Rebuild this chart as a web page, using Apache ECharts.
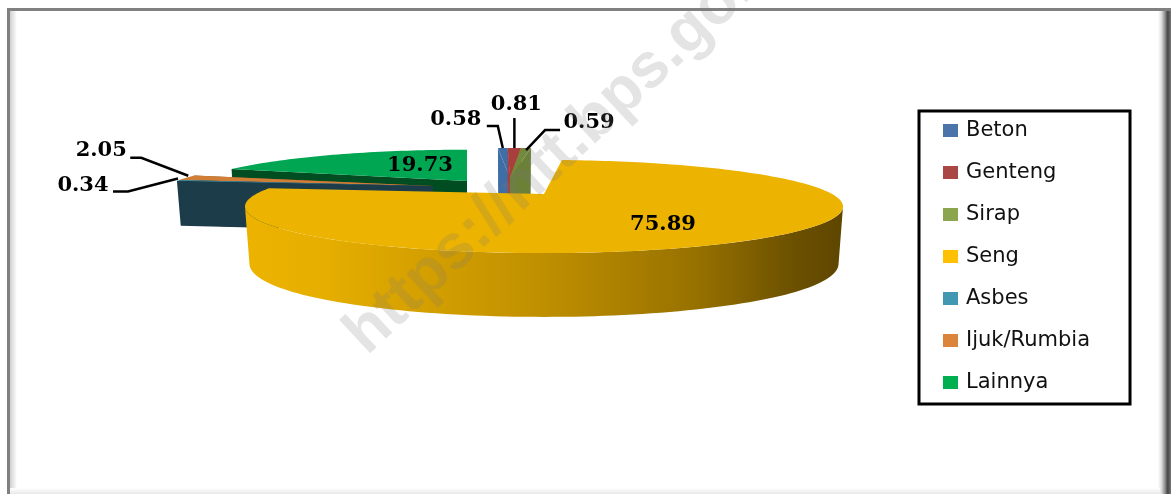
<!DOCTYPE html>
<html><head><meta charset="utf-8">
<style>html,body{margin:0;padding:0;background:#fff}#c{width:1171px;height:494px}</style>
<script src="https://cdn.jsdelivr.net/npm/echarts@6/dist/echarts.min.js"></script>
</head><body><div id="c"></div>
<script>
const categories = ['Beton','Genteng','Sirap','Seng','Asbes','Ijuk/Rumbia','Lainnya'];
const values = [0.58,0.81,0.59,75.89,0.34,2.05,19.73];
const valueLabels = ['0.58','0.81','0.59','75.89','0.34','2.05','19.73'];
const legendColors = ['#4a74aa','#aa4644','#8ba64f','#ffc000','#4298b0','#db843c','#00b050'];
const topColors = ['#3f6ea7','#a83f3c','#73893c','#ecb300','#4198af','#d17e37','#00a651'];
const wallColors = ['#3f6ea7','#a83f3c','#6c8038','#ecb300','#1c3c4a','#8a4f1e','#004d22'];
// paint order (back to front) and where each exploded slice sits
const paintOrder = [6,5,4,0,1,2,3];
const K = 0.269, RX = 288, RY = 43.2, DEPTH = 55, START_DEG = -2.6;
const layout = [
  {vx:510,vy:178,sx:1.17,sy:.88,depth:55, text:[-47,-29], line:[[0,0],[-5,-22],[-16,-22]]},
  {vx:510,vy:178,sx:1.17,sy:.88,depth:55, text:[2,-43], line:[[0,0],[0,-30]]},
  {vx:510,vy:178,sx:1.17,sy:.88,depth:55, text:[63,-26], line:[[0,2],[19,-18],[34,-18]]},
  {vx:544,vy:194,sx:1,sy:1,depth:55, text:[119,31], fromVertex:true},
  {vx:433,vy:186,sx:.93,sy:.92,depth:46, text:[-95,5], line:[[0,-2],[-50,11],[-65,11]]},
  {vx:433,vy:186,sx:.93,sy:.92,depth:46, text:[-85,-27], line:[[2,-2],[-45,-20],[-56,-20]]},
  {vx:467,vy:181,sx:.94,sy:.92,depth:55,rot:2.6, text:[-47,-15], fromVertex:true}
];
const total = values.reduce((a,b)=>a+b,0);
const DEG = Math.PI/180;
function proj(L, th, bottom){
  const u = Math.sin(th), v = Math.cos(th), w = 1 + K*v;
  let x = RX*L.sx*u/w, y = -RY*L.sy*v/w;
  if(bottom){ x *= .985; y += L.depth*(1-.16*v); }
  return [L.vx+x, L.vy+y];
}
function vertex(L,bottom){ return [L.vx, L.vy + (bottom?L.depth:0)]; }
function arc(L,a,b,bottom){
  const n = Math.max(2,Math.ceil(Math.abs(b-a)/(1.5*DEG))), p=[];
  for(let i=0;i<=n;i++) p.push(proj(L,a+(b-a)*i/n,bottom));
  return p;
}
const sengWall = {type:'linear',x:0,y:0,x2:1,y2:0,colorStops:[
  {offset:0,color:'#ecb300'},{offset:.13,color:'#e6ae00'},{offset:.5,color:'#bf8f00'},
  {offset:.75,color:'#987200'},{offset:.92,color:'#6b5000'},{offset:1,color:'#5e4600'}]};
const FRONT_FROM = 105.6*DEG, FRONT_TO = 254.4*DEG;
function renderSlice(idx){
  return function(params, api){
    const val = api.value(0);
    let before = 0; for(let i=0;i<idx;i++) before += values[i];
    const L = layout[idx];
    const a = (START_DEG + (L.rot||0) + before/total*360)*DEG, b = a + val/total*360*DEG;
    const kids = [];
    const poly = (pts,fill)=>({type:'polygon',shape:{points:pts},style:{fill:fill,stroke:null},silent:true});
    if(idx!==3){
      const v0=vertex(L,false), v1=vertex(L,true);
      [a,b].forEach(t=>kids.push(poly([v0,proj(L,t,false),proj(L,t,true),v1],wallColors[idx])));
    } else {
      const f=Math.max(a,FRONT_FROM), t=Math.min(b,FRONT_TO);
      kids.push(poly(arc(L,f,t,false).concat(arc(L,f,t,true).reverse()),sengWall));
    }
    kids.push(poly([vertex(L,false)].concat(arc(L,a,b,false)),topColors[idx]));
    const anchor = L.fromVertex ? vertex(L,false) : proj(L,(a+b)/2,false);
    if(L.line){
      kids.push({type:'polyline',shape:{points:L.line.map(p=>[anchor[0]+p[0],anchor[1]+p[1]])},
        style:{stroke:'#000',lineWidth:2.5,fill:null},silent:true});
    }
    kids.push({type:'text',silent:true,x:anchor[0]+L.text[0],y:anchor[1]+L.text[1],
      style:{text:valueLabels[idx],fill:'#000',font:'bold 21px "DejaVu Serif"',align:'center',verticalAlign:'middle'}});
    return {type:'group',children:kids};
  };
}
const series = categories.map((name,i)=>({
  type:'custom',name:name,coordinateSystem:'none',silent:true,animation:false,
  z:2+paintOrder.indexOf(i),
  itemStyle:{color:legendColors[i]},
  data:[[values[i]]],
  renderItem:renderSlice(i)
}));
const edge=(x,y,w,h,stops,vert)=>({type:'rect',silent:true,z:-1,shape:{x:x,y:y,width:w,height:h},
  style:{fill:stops.length===1?stops[0]:{type:'linear',x:0,y:0,x2:vert?0:1,y2:vert?1:0,
    colorStops:stops.map((c,i)=>({offset:i/(stops.length-1),color:c}))}}});
const chart = echarts.init(document.getElementById('c'),null,{renderer:'canvas'});
chart.setOption({
  animation:false,
  backgroundColor:'#fff',
  legend:{
    orient:'vertical',left:919,top:111,data:categories,selectedMode:false,
    icon:'rect',itemWidth:15,itemHeight:13,itemGap:15,
    padding:[6,40,8,24],borderColor:'#000',borderWidth:3,backgroundColor:'#fff',
    textStyle:{fontFamily:'DejaVu Sans',fontSize:21,color:'#111',lineHeight:24,padding:[3,0,0,3]}
  },
  graphic:{elements:[
    edge(7,8,1164,3,['#808080']),
    edge(7,8,3,486,['#808080']),
    edge(10,11,7,483,['#d0d0d0','#ffffff']),
    edge(1158,11,13,483,['#ffffff','#e0e0e0','#9a9a9a','#444444','#777777']),
    edge(10,488,1150,6,['#ffffff','#e8e8e8'],true),
    {type:'text',silent:true,z:100,x:570,y:143,rotation:43*DEG,
      style:{text:'https://ntt.bps.go.id',fill:'rgba(120,120,120,0.2)',font:'bold 63px "Liberation Sans"',
        align:'center',verticalAlign:'middle'}}
  ]},
  series:series
});
</script></body></html>
